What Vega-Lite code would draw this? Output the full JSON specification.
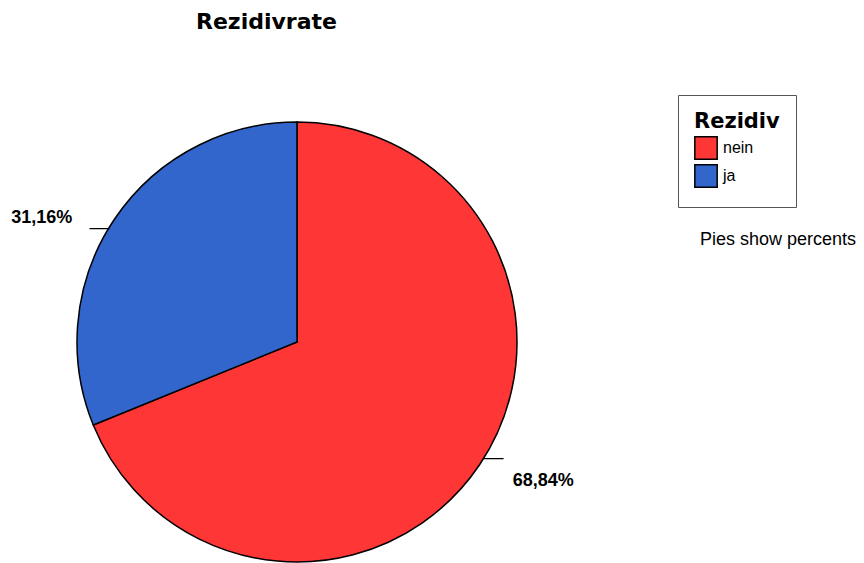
{
  "$schema": "https://vega.github.io/schema/vega-lite/v6.json",
  "autosize": {"type": "pad"},
  "padding": {"left": 0, "top": 10, "right": 0, "bottom": 0},
  "background": "white",
  "title": {
    "text": "Rezidivrate",
    "anchor": "start",
    "frame": "group",
    "dx": 196,
    "offset": 61,
    "font": "DejaVu Sans",
    "fontSize": 22,
    "fontWeight": "bold",
    "color": "black"
  },
  "data": {
    "values": [
      {"Rezidiv": "nein", "Anteil": 0.6884},
      {"Rezidiv": "ja", "Anteil": 0.3116}
    ]
  },
  "spacing": 106,
  "hconcat": [
    {
      "width": 594,
      "height": 440,
      "encoding": {
        "theta": {"field": "Anteil", "type": "quantitative", "stack": true},
        "order": {"field": "Anteil", "sort": "descending"}
      },
      "layer": [
        {
          "mark": {"type": "arc", "outerRadius": 220, "stroke": "black", "strokeWidth": 1.5},
          "encoding": {
            "color": {
              "field": "Rezidiv",
              "type": "nominal",
              "sort": ["nein", "ja"],
              "scale": {"domain": ["nein", "ja"], "range": ["#FF3636", "#3366CC"]},
              "legend": {
                "orient": "none",
                "legendX": 678,
                "legendY": -27,
                "title": "Rezidiv",
                "titleFont": "DejaVu Sans",
                "titleFontSize": 21,
                "titleFontWeight": "bold",
                "titleColor": "black",
                "titlePadding": 4,
                "labelFont": "Liberation Sans",
                "labelFontSize": 16,
                "labelColor": "black",
                "labelOffset": 5,
                "symbolType": "square",
                "symbolSize": 500,
                "symbolStrokeColor": "black",
                "symbolStrokeWidth": 1.5,
                "rowPadding": -2,
                "padding": 16,
                "strokeColor": "#555555",
                "fillColor": "white"
              }
            }
          }
        },
        {
          "mark": {"type": "text", "text": "—", "radius": 232, "dx": -5, "dy": 15, "font": "Liberation Sans", "fontSize": 20, "align": "center", "baseline": "middle", "color": "black"},
          "encoding": {
            "detail": {"field": "Rezidiv"},
            "opacity": {"condition": {"test": "datum.Rezidiv === 'ja'", "value": 1}, "value": 0}
          }
        },
        {
          "mark": {"type": "text", "text": "—", "radius": 232, "dx": 4, "dy": -13, "font": "Liberation Sans", "fontSize": 20, "align": "center", "baseline": "middle", "color": "black"},
          "encoding": {
            "detail": {"field": "Rezidiv"},
            "opacity": {"condition": {"test": "datum.Rezidiv === 'nein'", "value": 1}, "value": 0}
          }
        },
        {
          "mark": {"type": "text", "radius": 260, "dx": -9, "dy": 21, "font": "Liberation Sans", "fontSize": 18, "fontWeight": "bold", "align": "right", "baseline": "middle", "color": "black"},
          "encoding": {
            "detail": {"field": "Rezidiv"},
            "text": {"field": "Anteil", "type": "quantitative", "format": ".2%"},
            "opacity": {"condition": {"test": "datum.Rezidiv === 'ja'", "value": 1}, "value": 0}
          }
        },
        {
          "mark": {"type": "text", "radius": 260, "dx": 0, "dy": -6, "font": "Liberation Sans", "fontSize": 18, "fontWeight": "bold", "align": "left", "baseline": "middle", "color": "black"},
          "encoding": {
            "detail": {"field": "Rezidiv"},
            "text": {"field": "Anteil", "type": "quantitative", "format": ".2%"},
            "opacity": {"condition": {"test": "datum.Rezidiv === 'nein'", "value": 1}, "value": 0}
          }
        }
      ]
    },
    {
      "width": 1,
      "height": 109,
      "title": {
        "text": "Pies show percents",
        "orient": "bottom",
        "anchor": "start",
        "frame": "group",
        "offset": 0,
        "baseline": "top",
        "font": "Liberation Sans",
        "fontSize": 18,
        "fontWeight": "normal",
        "color": "black"
      },
      "mark": {"type": "text", "opacity": 0},
      "encoding": {}
    }
  ],
  "config": {
    "view": {"stroke": null},
    "locale": {
      "number": {"decimal": ",", "thousands": ".", "grouping": [3], "currency": ["", " €"]}
    }
  }
}
